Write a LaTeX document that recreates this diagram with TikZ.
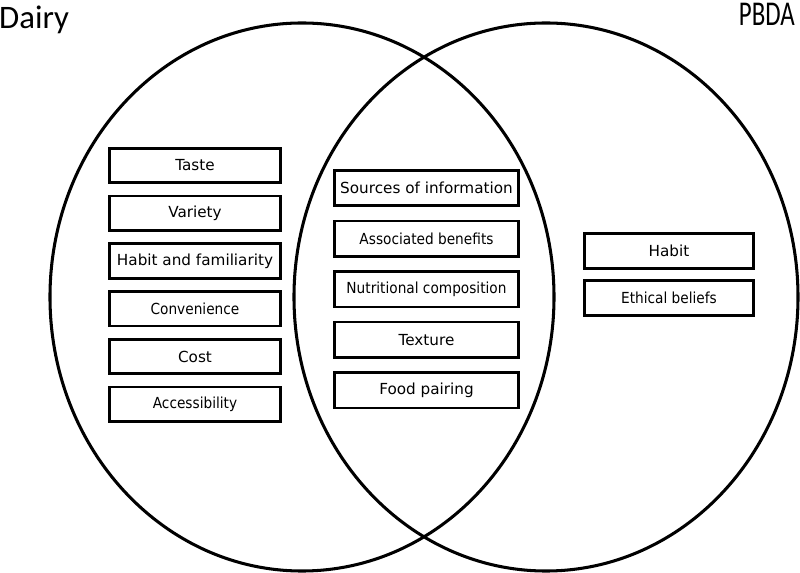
\documentclass[tikz,border=0pt]{standalone}
\usepackage{fontspec}
\setmainfont{DejaVu Sans}
\newfontfamily\labelfont{Carlito}
\newfontfamily\narrowfont{DejaVu Sans Condensed}
\usetikzlibrary{shapes.geometric}
\usetikzlibrary{positioning}
\tikzset{
	set_node/.style = {
		ellipse,
		draw=black,
		line width=2.6pt,
		inner sep=0pt,
		minimum width=15.12cm,
		minimum height=16.44cm
	},
	set_label/.style = {
		inner sep=0pt,
		font=\labelfont\fontsize{28}{30}\selectfont
	},
	node_box/.style = {
		rectangle,
		draw=black,
		line width=2.2pt,
		inner sep=0pt,
		align=center,
		text centered,
		font=\fontsize{13}{15}\selectfont
	},
	narrow/.style = {
		font=\narrowfont\fontsize{13}{15}\selectfont
	},
	node_dairy/.style = {
		node_box,
		minimum width=5.14cm,
		minimum height=1.035cm
	},
	node_both/.style = {
		node_box,
		minimum width=5.53cm,
		minimum height=1.06cm
	},
	node_pbda/.style = {
		node_box,
		minimum width=5.08cm,
		minimum height=1.06cm
	},
}

\begin{document}
\begin{tikzpicture}[x=0.03cm, y=-0.03cm]
\useasboundingbox (0,0) rectangle (800,573);
\node [set_node] (dairy) at (302,297) {};
\node [set_node] (pbda) at (546,297) {};
\node [set_label, anchor=base west] (dairy_lbl) at (-1,29) {Dairy};
\node [set_label, anchor=base east] (pbda_lbl) at (795,26) {\scalebox{0.76}[1.06]{PBDA}};

\begin{scope}[node distance=0.32cm]
\node [node_dairy] (taste) at (195,165.5) {Taste};
\node [node_dairy, below=of taste] (variety) {Variety};
\node [node_dairy, below=of variety] (habitfam) {Habit and familiarity};
\node [node_dairy, narrow, below=of habitfam] (convenience) {Convenience};
\node [node_dairy, below=of convenience] (cost) {Cost};
\node [node_dairy, narrow, below=of cost] (access) {Accessibility};
\end{scope}

\begin{scope}[node distance=0.38cm]
\node [node_both] (sources) at (426.5,188) {Sources of information};
\node [node_both, narrow, below=of sources] (benefits) {Associated benefits};
\node [node_both, narrow, below=of benefits] (nutrition) {Nutritional composition};
\node [node_both, below=of nutrition] (texture) {Texture};
\node [node_both, below=of texture] (pairing) {Food pairing};
\end{scope}

\begin{scope}[node distance=0.27cm]
\node [node_pbda] (habit) at (669,251) {Habit};
\node [node_pbda, narrow, below=of habit] (ethics) {Ethical beliefs};
\end{scope}
\end{tikzpicture}
\end{document}
